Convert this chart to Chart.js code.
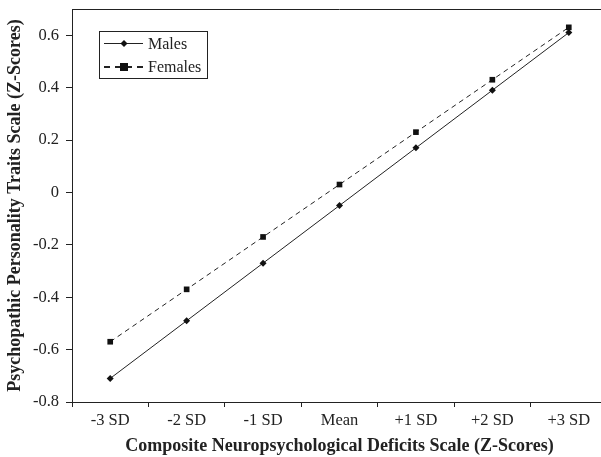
<!DOCTYPE html>
<html><head><meta charset="utf-8">
<script src="https://cdn.jsdelivr.net/npm/chart.js@4/dist/chart.umd.min.js"></script>
<style>
html,body{margin:0;padding:0;background:#fff;overflow:hidden;}
#wrap{position:relative;width:611px;height:457px;}
</style></head>
<body><div id="wrap"><canvas id="c"></canvas></div>
<script>
const categories = ['-3 SD','-2 SD','-1 SD','Mean','+1 SD','+2 SD','+3 SD'];
const males = [-0.71, -0.49, -0.27, -0.05, 0.17, 0.39, 0.61];
const females = [-0.57, -0.37, -0.17, 0.03, 0.23, 0.43, 0.63];
const yTicks = [-0.8, -0.6, -0.4, -0.2, 0, 0.2, 0.4, 0.6];
const xTitle = 'Composite Neuropsychological Deficits Scale (Z-Scores)';
const yTitle = 'Psychopathic Personality Traits Scale (Z-Scores)';

const FONT = '"Liberation Serif", "Times New Roman", serif';

const frameLegend = {
  id: 'frameLegend',
  afterDraw(chart) {
    const ctx = chart.ctx, a = chart.chartArea;
    ctx.save();
    ctx.strokeStyle = '#222'; ctx.lineWidth = 1;
    ctx.beginPath(); ctx.moveTo(a.left, a.top + 0.5); ctx.lineTo(a.right, a.top + 0.5); ctx.stroke();
    const bx = 99.5, by = 31.5, bw = 108, bh = 47;
    ctx.strokeRect(bx, by, bw, bh);
    ctx.font = '16px ' + FONT;
    ctx.textBaseline = 'middle';
    chart.data.datasets.forEach((ds, i) => {
      const y = 43.5 + i * 23.5;
      ctx.strokeStyle = '#222';
      ctx.lineWidth = ds.legendDash.length ? 2 : 1;
      ctx.setLineDash(ds.legendDash);
      ctx.beginPath(); ctx.moveTo(104, y); ctx.lineTo(143, y); ctx.stroke();
      ctx.setLineDash([]);
      ctx.fillStyle = '#111';
      if (ds.pointStyle === 'rectRot') {
        const r = 3.5;
        ctx.beginPath(); ctx.moveTo(124, y - r); ctx.lineTo(124 + r, y); ctx.lineTo(124, y + r); ctx.lineTo(124 - r, y); ctx.closePath(); ctx.fill();
      } else {
        ctx.fillRect(120, y - 4, 8, 8);
      }
      ctx.fillStyle = '#222';
      ctx.fillText(ds.label, 148, y + 1);
    });
    ctx.restore();
  }
};

new Chart(document.getElementById('c'), {
  type: 'line',
  data: {
    labels: categories,
    datasets: [
      { label: 'Males', data: males, borderColor: '#222', borderWidth: 1, pointStyle: 'rectRot', pointRadius: 3.5,
        pointBackgroundColor: '#111', pointBorderColor: '#111', pointBorderWidth: 0, legendDash: [] },
      { label: 'Females', data: females, borderColor: '#222', borderWidth: 1, borderDash: [5, 4], pointStyle: 'rect', pointRadius: 4,
        pointBackgroundColor: '#111', pointBorderColor: '#111', pointBorderWidth: 0, legendDash: [6, 5] }
    ]
  },
  options: {
    responsive: true, maintainAspectRatio: false, animation: false,
    layout: { padding: { top: 9, right: 0, bottom: 0, left: 0 } },
    plugins: { legend: { display: false }, tooltip: { enabled: false } },
    scales: {
      x: {
        offset: true,
        grid: { offset: true, drawOnChartArea: false, drawTicks: true, tickLength: 5, color: '#222' },
        border: { display: true, color: '#222', width: 1 },
        ticks: { color: '#222', font: { family: FONT, size: 16.5 }, padding: 4, maxRotation: 0 },
        title: { display: true, text: xTitle, color: '#222', font: { family: FONT, size: 18, weight: 'bold' }, padding: { top: 0, bottom: 0 } },
        afterFit(s) { s.height = 55; s.paddingLeft = 0; s.paddingRight = 0; }
      },
      y: {
        min: -0.8, max: 0.7,
        afterBuildTicks(s) { s.ticks = yTicks.map(v => ({ value: v })); },
        grid: { drawOnChartArea: false, drawTicks: true, tickLength: 6, color: '#222' },
        border: { display: true, color: '#222', width: 1 },
        ticks: { color: '#222', font: { family: FONT, size: 16.5 }, padding: 7, callback: v => String(Math.round(v * 10) / 10) },
        title: { display: true, text: yTitle, color: '#222', font: { family: FONT, size: 18, weight: 'bold' }, padding: { top: 5, bottom: 0 } },
        afterFit(s) { s.width = 72; s.paddingTop = 0; s.paddingBottom = 0; }
      }
    }
  },
  plugins: [frameLegend]
});
</script></body></html>
